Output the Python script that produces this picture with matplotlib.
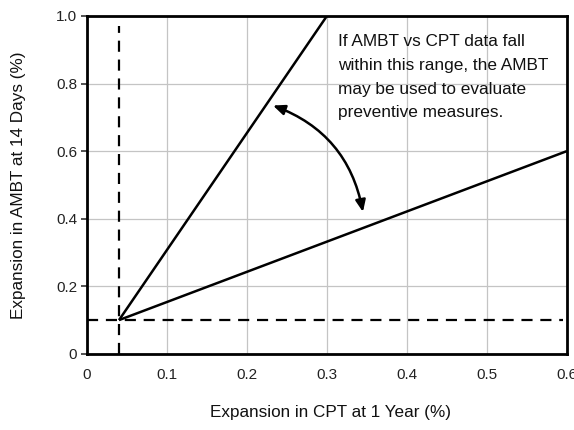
import matplotlib
matplotlib.use("Agg")
import matplotlib.pyplot as plt
from matplotlib.patches import FancyArrowPatch

plt.rcParams['font.family'] = ['Liberation Sans', 'DejaVu Sans']

# data
origin = (0.04, 0.10)
upper_line_x = [0.04, 0.30]
upper_line_y = [0.10, 1.00]
lower_line_x = [0.04, 0.60]
lower_line_y = [0.10, 0.60]
vdash_x = [0.04, 0.04]
vdash_y = [0.0, 0.97]
hdash_x = [0.0, 0.595]
hdash_y = [0.10, 0.10]
xticks = [0, 0.1, 0.2, 0.3, 0.4, 0.5, 0.6]
xticklabels = ['0', '0.1', '0.2', '0.3', '0.4', '0.5', '0.6']
yticks = [0, 0.2, 0.4, 0.6, 0.8, 1.0]
yticklabels = ['0', '0.2', '0.4', '0.6', '0.8', '1.0']
arrow_a = (0.2325, 0.735)
arrow_b = (0.345, 0.42)
note = "If AMBT vs CPT data fall\nwithin this range, the AMBT\nmay be used to evaluate\npreventive measures."

fig = plt.figure(figsize=(5.74, 4.30), dpi=100)
ax = fig.add_axes([0.1516, 0.177, 0.836, 0.786])
ax.set_xlim(0, 0.6)
ax.set_ylim(0, 1.0)
ax.set_xticks(xticks)
ax.set_xticklabels(xticklabels)
ax.set_yticks(yticks)
ax.set_yticklabels(yticklabels)
ax.grid(True, color='#c4c4c4', linewidth=0.9)
ax.set_axisbelow(True)
for s in ax.spines.values():
    s.set_linewidth(2.0)
ax.tick_params(axis='x', length=0, pad=10, labelsize=11, colors='#333333')
ax.tick_params(axis='y', length=4, width=1.2, pad=3, labelsize=11, colors='#333333')
for lab in ax.get_xticklabels() + ax.get_yticklabels():
    lab.set_color('#222222')

ax.plot(upper_line_x, upper_line_y, color='black', lw=1.8, solid_capstyle='butt')
ax.plot(lower_line_x, lower_line_y, color='black', lw=1.8, solid_capstyle='butt')
ax.plot(vdash_x, vdash_y, color='black', lw=1.6, dashes=(5, 3.5))
ax.plot(hdash_x, hdash_y, color='black', lw=1.6, dashes=(5, 3.5))

arr = FancyArrowPatch(arrow_a, arrow_b, arrowstyle='<|-|>,head_length=7,head_width=3',
                      connectionstyle='arc3,rad=-0.28', color='black', lw=1.8,
                      shrinkA=0, shrinkB=0)
ax.add_patch(arr)

ax.text(0.314, 0.945, note, fontsize=12.4, va='top', ha='left', linespacing=1.72,
        color='#111111')

fig.text(0.5755, 0.023, 'Expansion in CPT at 1 Year (%)', ha='center', va='bottom',
         fontsize=12.3, color='#111111')
fig.text(0.032, 0.57, 'Expansion in AMBT at 14 Days (%)', rotation=90, ha='center',
         va='center', fontsize=12.3, color='#111111')

fig.savefig('out.png', dpi=100)
